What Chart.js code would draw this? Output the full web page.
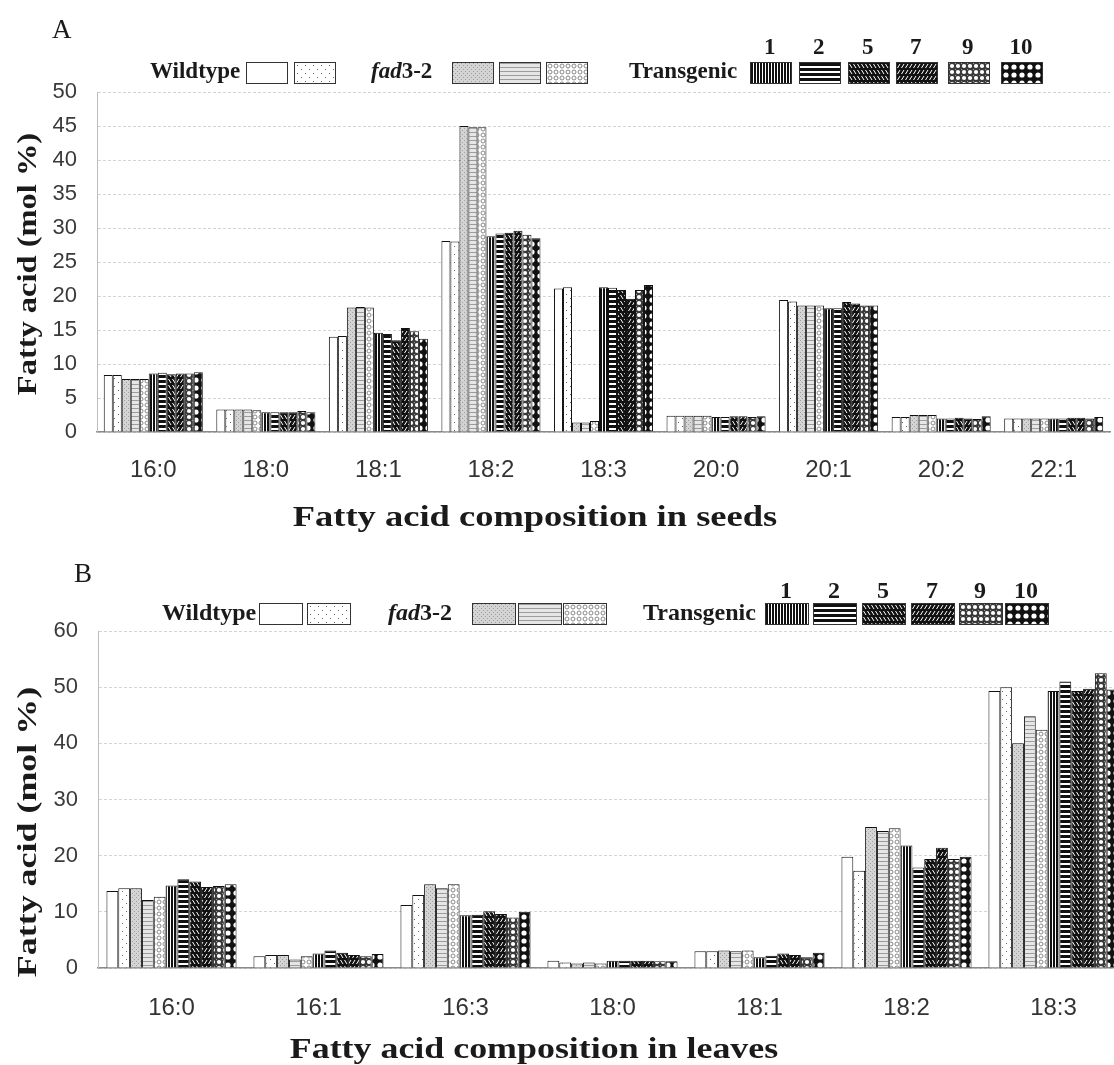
<!DOCTYPE html>
<html>
<head>
<meta charset="utf-8">
<script src="https://cdn.jsdelivr.net/npm/chart.js@4.4.0/dist/chart.umd.min.js"></script>
<style>
  html, body { margin: 0; padding: 0; background: #fff; overflow: hidden; }
  #page { position: relative; width: 1114px; height: 1065px; overflow: hidden; }
  canvas { position: absolute; left: 0; }
  .txt { position: absolute; white-space: nowrap; color: #1a1a1a; }
  .serif { font-family: "Liberation Serif", "DejaVu Serif", serif; font-weight: bold; }
  .swatch { position: absolute; box-sizing: border-box; border: 1.5px solid #333; }
</style>
</head>
<body>
<div id="page">
  <canvas id="seedChart" width="1114" height="545" style="top:0"></canvas>
  <canvas id="leafChart" width="1130" height="520" style="top:545px"></canvas>
</div>
<script>
// categories
const seedAcids = ['16:0', '18:0', '18:1', '18:2', '18:3', '20:0', '20:1', '20:2', '22:1'];
const leafAcids = ['16:0', '16:1', '16:3', '18:0', '18:1', '18:2', '18:3'];
const transLines = ['1', '2', '5', '7', '9', '10'];
const seriesNames = ['Wildtype a', 'Wildtype b', 'fad3-2 a', 'fad3-2 b', 'fad3-2 c',
  'Transgenic 1', 'Transgenic 2', 'Transgenic 5', 'Transgenic 7', 'Transgenic 9', 'Transgenic 10'];

// seeds (mol %), one array per line, in the order of seedAcids
const seedWt1  = [8.4, 3.3, 14.0, 28.1, 21.1, 2.4, 19.4, 2.2, 2.0];
const seedWt2  = [8.4, 3.3, 14.1, 28.0, 21.3, 2.4, 19.2, 2.2, 2.0];
const seedFad1 = [7.8, 3.3, 18.3, 45.0, 1.4, 2.4, 18.6, 2.5, 2.0];
const seedFad2 = [7.8, 3.3, 18.4, 44.8, 1.4, 2.4, 18.6, 2.5, 2.0];
const seedFad3 = [7.8, 3.2, 18.3, 44.8, 1.6, 2.4, 18.6, 2.5, 2.0];
const seedT1   = [8.6, 2.9, 14.6, 28.8, 21.3, 2.2, 18.2, 2.0, 2.0];
const seedT2   = [8.7, 2.9, 14.4, 29.2, 21.2, 2.2, 18.2, 2.0, 2.0];
const seedT5   = [8.5, 2.9, 13.5, 29.3, 20.9, 2.3, 19.1, 2.1, 2.1];
const seedT7   = [8.6, 2.9, 15.3, 29.6, 19.6, 2.3, 18.9, 2.0, 2.1];
const seedT9   = [8.6, 3.1, 14.8, 29.0, 20.9, 2.2, 18.6, 1.9, 2.0];
const seedT10  = [8.8, 2.9, 13.7, 28.5, 21.6, 2.3, 18.6, 2.3, 2.2];

// leaves (mol %), in the order of leafAcids
const leafWt1  = [13.7, 2.1, 11.2, 1.3, 3.0, 19.8, 49.3];
const leafWt2  = [14.2, 2.3, 13.0, 1.0, 3.0, 17.3, 50.0];
const leafFad1 = [14.2, 2.3, 14.9, 0.8, 3.1, 25.1, 40.0];
const leafFad2 = [12.1, 1.5, 14.2, 1.0, 3.0, 24.4, 44.8];
const leafFad3 = [12.7, 2.1, 14.9, 0.8, 3.1, 24.9, 42.4];
const leafT1   = [14.7, 2.6, 9.4, 1.3, 1.9, 21.8, 49.3];
const leafT2   = [15.8, 3.1, 9.5, 1.3, 2.2, 17.9, 51.0];
const leafT5   = [15.4, 2.7, 10.1, 1.3, 2.6, 19.4, 49.3];
const leafT7   = [14.4, 2.3, 9.6, 1.3, 2.3, 21.4, 49.7];
const leafT9   = [14.6, 2.1, 9.0, 1.2, 1.9, 19.4, 52.5];
const leafT10  = [14.9, 2.5, 10.0, 1.2, 2.7, 19.8, 49.6];

const seedTicks = [0, 5, 10, 15, 20, 25, 30, 35, 40, 45, 50];
const leafTicks = [0, 10, 20, 30, 40, 50, 60];

// fill patterns, one per line
function tile(w, h, draw) {
    const c = document.createElement('canvas');
    c.width = w;
    c.height = h;
    draw(c.getContext('2d'), w, h);
    return c;
}
function bg(g, w, h, col) { g.fillStyle = col; g.fillRect(0, 0, w, h); }

const tiles = [
    tile(4, 4, (g, w, h) => bg(g, w, h, '#fff')),
    tile(8, 8, (g, w, h) => { bg(g, w, h, '#fff'); g.fillStyle = '#666'; g.fillRect(2, 2, 1, 1); g.fillRect(6, 6, 1, 1); }),
    tile(4, 4, (g, w, h) => { bg(g, w, h, '#d4d4d4'); g.fillStyle = '#a0a0a0'; g.fillRect(0, 0, 1, 1); g.fillRect(2, 2, 1, 1); }),
    tile(4, 4, (g, w, h) => { bg(g, w, h, '#e6e6e6'); g.fillStyle = '#9c9c9c'; g.fillRect(0, 0, 4, 1); }),
    tile(6, 6, (g, w, h) => {
        bg(g, w, h, '#fff');
        g.strokeStyle = '#888'; g.lineWidth = 1;
        g.beginPath(); g.arc(3, 3, 2, 0, Math.PI * 2); g.stroke();
    }),
    tile(3, 3, (g, w, h) => { bg(g, w, h, '#fff'); g.fillStyle = '#111'; g.fillRect(0, 0, 2, 3); }),
    tile(5, 5, (g, w, h) => { bg(g, w, h, '#fff'); g.fillStyle = '#111'; g.fillRect(0, 0, 5, 3); }),
    tile(8, 6, (g, w, h) => {
        bg(g, w, h, '#111');
        g.strokeStyle = '#fff'; g.lineWidth = 1;
        g.beginPath(); g.moveTo(0.5, 1); g.lineTo(3, 5); g.moveTo(4.5, 1); g.lineTo(7, 5); g.stroke();
    }),
    tile(8, 6, (g, w, h) => {
        bg(g, w, h, '#111');
        g.strokeStyle = '#fff'; g.lineWidth = 1;
        g.beginPath(); g.moveTo(3, 1); g.lineTo(0.5, 5); g.moveTo(7, 1); g.lineTo(4.5, 5); g.stroke();
    }),
    tile(6, 6, (g, w, h) => {
        bg(g, w, h, '#3a3a3a');
        g.fillStyle = '#fff';
        g.beginPath(); g.arc(3, 3, 2.1, 0, Math.PI * 2); g.fill();
        g.fillStyle = '#999'; g.fillRect(0, 0, 1, 1);
    }),
    tile(8, 8, (g, w, h) => {
        bg(g, w, h, '#111');
        g.fillStyle = '#fff';
        g.beginPath(); g.arc(4, 4, 2.6, 0, Math.PI * 2); g.fill();
    })
];
const helper = document.createElement('canvas').getContext('2d');
const patterns = tiles.map(t => helper.createPattern(t, 'repeat'));

const page = document.getElementById('page');

function addText(text, cls, style) {
    const d = document.createElement('div');
    d.className = 'txt ' + cls;
    d.innerHTML = text;
    Object.assign(d.style, style);
    page.appendChild(d);
    return d;
}

// squeeze or stretch a text block to a measured length, centred on (cx, cy)
function fitText(d, cx, cy, len, rotate) {
    const w = d.offsetWidth;
    d.style.left = cx + 'px';
    d.style.top = cy + 'px';
    d.style.transform = 'translate(-50%, -50%)' + (rotate ? ' rotate(-90deg)' : '') + ' scale(' + (len / w) + ', 1)';
}

function buildLegend(lay) {
    lay.labels.forEach((lab, i) => {
        addText(lab, 'serif', { left: lay.labelX[i] + 'px', top: (lay.swTop - 4) + 'px', fontSize: lay.font + 'px', lineHeight: (lay.swH + 6) + 'px' });
    });
    lay.swX.forEach((x, i) => {
        const c = document.createElement('canvas');
        c.width = lay.swW;
        c.height = lay.swH;
        c.className = 'swatch';
        c.style.left = x + 'px';
        c.style.top = lay.swTop + 'px';
        const g = c.getContext('2d');
        g.fillStyle = patterns[i];
        g.fillRect(0, 0, lay.swW, lay.swH);
        page.appendChild(c);
    });
    transLines.forEach((t, i) => {
        const d = addText(t, 'serif', { top: (lay.numY - 13) + 'px', fontSize: lay.font + 'px', lineHeight: '26px' });
        d.style.left = (lay.swX[5 + i] + lay.swW / 2 - d.offsetWidth / 2) + 'px';
    });
}

function makeChart(id, labels, series, ticks, geom) {
    return new Chart(document.getElementById(id), {
        type: 'bar',
        data: {
            labels: labels,
            datasets: series.map((vals, i) => ({
                label: seriesNames[i],
                data: vals,
                backgroundColor: patterns[i],
                borderColor: '#111',
                borderWidth: 1,
                categoryPercentage: geom.cat,
                barPercentage: 1.0
            }))
        },
        options: {
            responsive: false,
            animation: false,
            devicePixelRatio: 1,
            layout: { padding: { top: geom.top, right: geom.right, left: 0, bottom: 0 } },
            plugins: { legend: { display: false }, tooltip: { enabled: false } },
            scales: {
                x: {
                    grid: { display: false },
                    border: { display: true, color: '#8a8a8a', width: 1.5 },
                    ticks: { color: '#333', padding: geom.tickPad, font: { family: 'Liberation Sans', size: 24 } },
                    afterFit: s => { s.height = geom.xh; }
                },
                y: {
                    min: ticks[0],
                    max: ticks[ticks.length - 1],
                    afterBuildTicks: s => { s.ticks = ticks.map(v => ({ value: v })); },
                    grid: { color: '#d4d4d4', drawTicks: false },
                    border: { display: true, color: '#bdbdbd', width: 1, dash: [3, 2] },
                    ticks: { color: '#3a3a3a', padding: 20, font: { family: 'Liberation Sans', size: 22 } },
                    afterFit: s => { s.width = geom.yw; }
                }
            }
        }
    });
}

makeChart('seedChart', seedAcids,
    [seedWt1, seedWt2, seedFad1, seedFad2, seedFad3, seedT1, seedT2, seedT5, seedT7, seedT9, seedT10],
    seedTicks, { top: 92, right: 4, xh: 113, yw: 97, cat: 0.88, tickPad: 16 });

makeChart('leafChart', leafAcids,
    [leafWt1, leafWt2, leafFad1, leafFad2, leafFad3, leafT1, leafT2, leafT5, leafT7, leafT9, leafT10],
    leafTicks, { top: 86, right: 3, xh: 97, yw: 98, cat: 0.885, tickPad: 18 });

// panel letters
addText('A', '', { left: '52px', top: '14px', fontSize: '27px', fontFamily: '"Liberation Serif", serif' });
addText('B', '', { left: '74px', top: '558px', fontSize: '27px', fontFamily: '"Liberation Serif", serif' });

// legends
buildLegend({
    labels: ['Wildtype', '<i>fad</i>3-2', 'Transgenic'], labelX: [150, 371, 629],
    swX: [246, 294, 452, 499, 546, 750, 799, 848, 896, 948, 1001],
    swW: 40, swH: 20, swTop: 62, numY: 47, font: 23
});
buildLegend({
    labels: ['Wildtype', '<i>fad</i>3-2', 'Transgenic'], labelX: [162, 388, 643],
    swX: [259, 307, 472, 518, 563, 765, 813, 862, 911, 959, 1005],
    swW: 42, swH: 20, swTop: 603, numY: 590, font: 24
});

// axis titles
fitText(addText('Fatty acid (mol %)', 'serif', { fontSize: '28px' }), 27, 264, 262, true);
fitText(addText('Fatty acid (mol %)', 'serif', { fontSize: '28px' }), 27, 832, 290, true);
fitText(addText('Fatty acid composition in seeds', 'serif', { fontSize: '30px' }), 535, 516, 484, false);
fitText(addText('Fatty acid composition in leaves', 'serif', { fontSize: '30px' }), 534, 1048, 488, false);
</script>
</body>
</html>
